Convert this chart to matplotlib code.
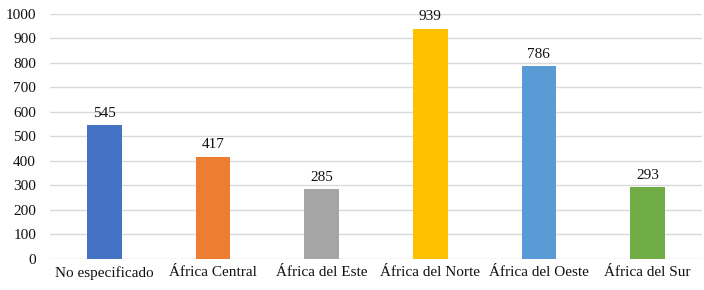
import matplotlib
matplotlib.use('Agg')
import matplotlib.pyplot as plt

# data
regions = ['No especificado', 'África Central', 'África del Este',
           'África del Norte', 'África del Oeste', 'África del Sur']
counts = [545, 417, 285, 939, 786, 293]
colors = ['#4472C4', '#ED7D31', '#A5A5A5', '#FFC000', '#5B9BD5', '#70AD47']

plt.rcParams['font.family'] = ['Liberation Serif', 'DejaVu Serif']

fig = plt.figure(figsize=(7.04, 2.9), dpi=100)
ax = fig.add_axes([0.071, 0.107, 0.926, 0.845])

x = range(len(regions))
bars = ax.bar(x, counts, width=0.32, color=colors, zorder=3)
for b, v in zip(bars, counts):
    ax.text(b.get_x() + b.get_width() / 2, v + 22, str(v),
            ha='center', va='bottom', fontsize=11, color='#111111')

ax.set_xlim(-0.5, len(regions) - 0.5)
ax.set_ylim(0, 1000)
ax.set_yticks(range(0, 1001, 100))
ax.set_xticks(list(x))
ax.set_xticklabels(regions, fontsize=11, color='#111111')
ax.tick_params(axis='y', labelsize=11, labelcolor='#111111', length=0, pad=10)
ax.tick_params(axis='x', length=0, pad=5)
ax.grid(axis='y', color='#D9D9D9', linewidth=1, zorder=0)
for s in ax.spines.values():
    s.set_visible(False)

fig.savefig('out.png', dpi=100)
